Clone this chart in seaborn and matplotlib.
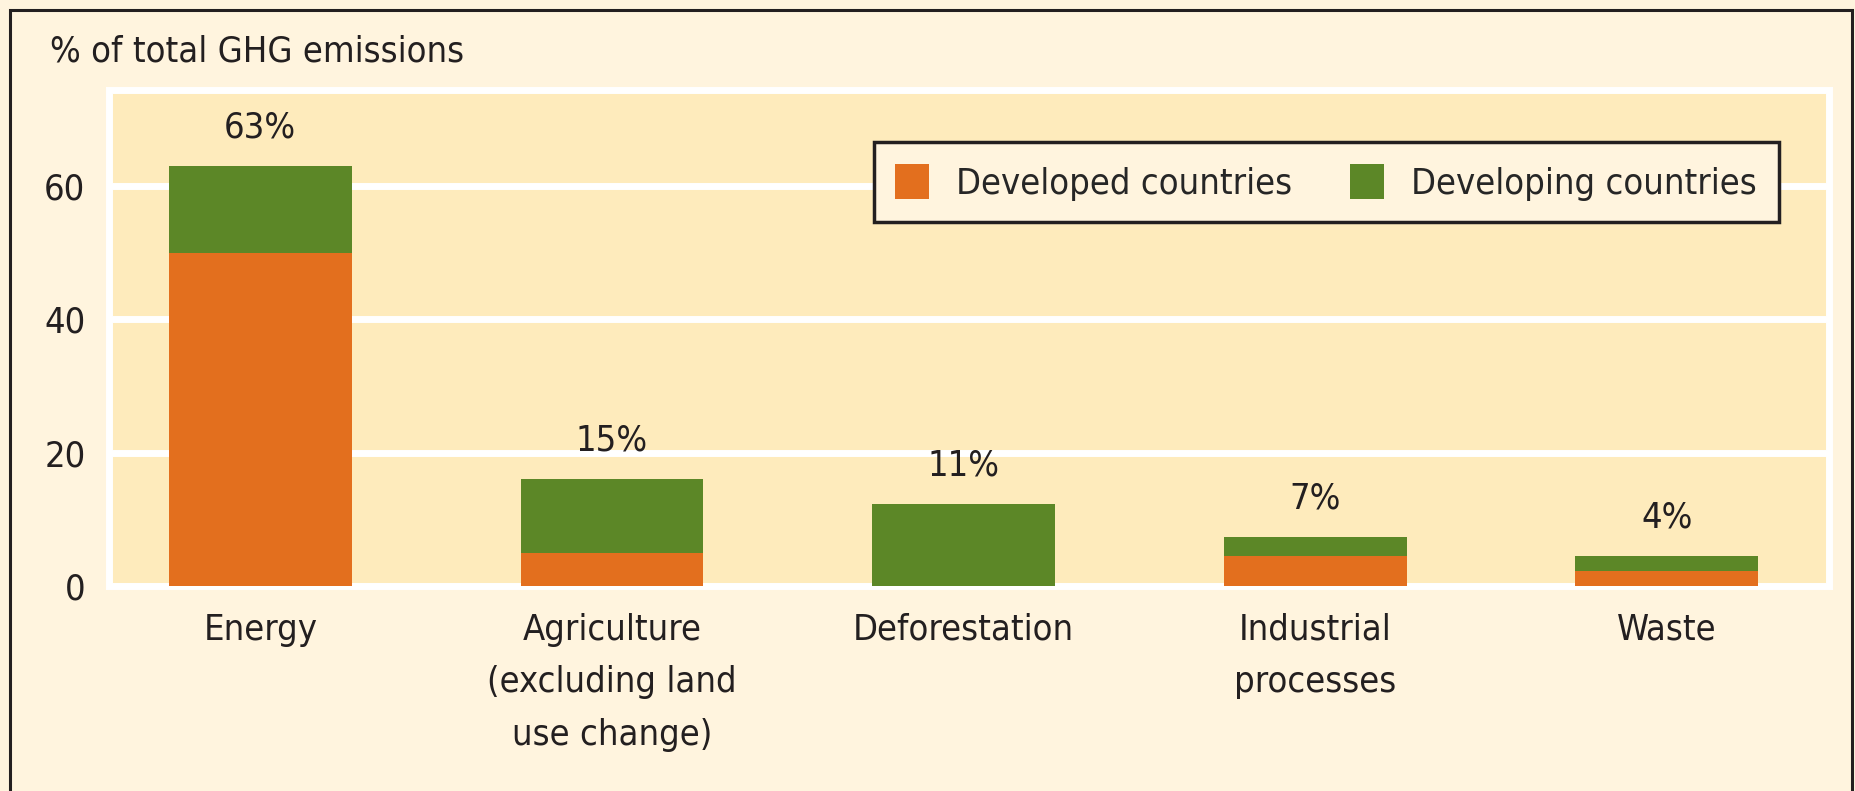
"""
Stacked bar chart of greenhouse gas emissions by sector.
"""

import pandas as pd
import matplotlib.pyplot as plt
import seaborn as sns
from matplotlib.patches import Rectangle

categories = ["Energy", "Agriculture\n(excluding land\nuse change)", "Deforestation",
              "Industrial\nprocesses", "Waste"]
developed = [50, 5, 0, 4.5, 2.3]
developing = [13, 11, 12.3, 2.8, 2.2]
share_labels = ["63%", "15%", "11%", "7%", "4%"]
y_ticks = [0, 20, 40, 60]

def prepare_data():
    """Build a dataframe with the stacked totals."""
    df = pd.DataFrame({'sector': categories,
                       'developed': developed,
                       'developing': developing})
    df['total'] = df['developed'] + df['developing']
    return df

def plot_emissions(output_path='out.png'):
    """Draw the stacked bars with labels and legend."""
    df = prepare_data()

    sns.set_style('white')
    plt.rcParams['font.family'] = ['DejaVu Sans']
    plt.rcParams['font.stretch'] = 'condensed'  # narrow face when the system has one
    plt.rcParams['font.size'] = 26

    fig = plt.figure(figsize=(18.55, 7.91), dpi=100, facecolor='#FFF4DE')
    ax = fig.add_axes([0.0588, 0.259, 0.927, 0.627])
    ax.set_facecolor('#FEEBBC')

    # Total first (developing on top), developed drawn over it
    sns.barplot(data=df, x='sector', y='total', color='#5C8727', width=0.52,
                saturation=1, linewidth=0, label='Developing countries', ax=ax, zorder=3)
    sns.barplot(data=df, x='sector', y='developed', color='#E36F1E', width=0.52,
                saturation=1, linewidth=0, label='Developed countries', ax=ax, zorder=3)

    for i, row in df.iterrows():
        ax.text(i, row['total'] + 5.8, share_labels[i], ha='center', va='center',
                fontsize=26, color='#231F20')

    ax.set_ylim(0, 74.4)
    ax.set_xlim(-0.43, 4.46)
    ax.set_yticks(y_ticks)
    ax.set_xticks(range(len(categories)), categories, linespacing=1.7)
    ax.grid(axis='y', color='white', linewidth=5, zorder=1)
    ax.set_axisbelow(True)
    for spine in ax.spines.values():
        spine.set_color('white')
        spine.set_linewidth(5)
    ax.tick_params(axis='both', length=0, labelsize=26, colors='#231F20')
    ax.tick_params(axis='y', pad=17)
    ax.tick_params(axis='x', pad=19)
    ax.set_xlabel('')
    ax.set_ylabel('')

    handles, labels = ax.get_legend_handles_labels()
    leg = ax.legend(handles[::-1], labels[::-1], ncol=2, loc='upper right',
                    bbox_to_anchor=(0.971, 0.895), borderaxespad=0,
                    frameon=True, fancybox=False, fontsize=26,
                    handlelength=0.94, handleheight=1.1, handletextpad=0.75,
                    columnspacing=1.6, borderpad=0.6)
    leg.get_frame().set_facecolor('#FFF4DE')
    leg.get_frame().set_edgecolor('#231F20')
    leg.get_frame().set_linewidth(2.5)
    leg.get_frame().set_alpha(1)

    fig.text(50 / 1855, 1 - 62 / 791, '% of total GHG emissions', ha='left',
             va='baseline', fontsize=26, color='#231F20')

    # Outer frame round the whole figure
    fig.patches.append(Rectangle((10 / 1855, -0.02), 1842 / 1855, 1.02 - 10 / 791,
                                 transform=fig.transFigure, fill=False,
                                 edgecolor='#231F20', linewidth=2.2))

    plt.savefig(output_path, dpi=100, facecolor=fig.get_facecolor())
    plt.close()

if __name__ == "__main__":
    plot_emissions()
